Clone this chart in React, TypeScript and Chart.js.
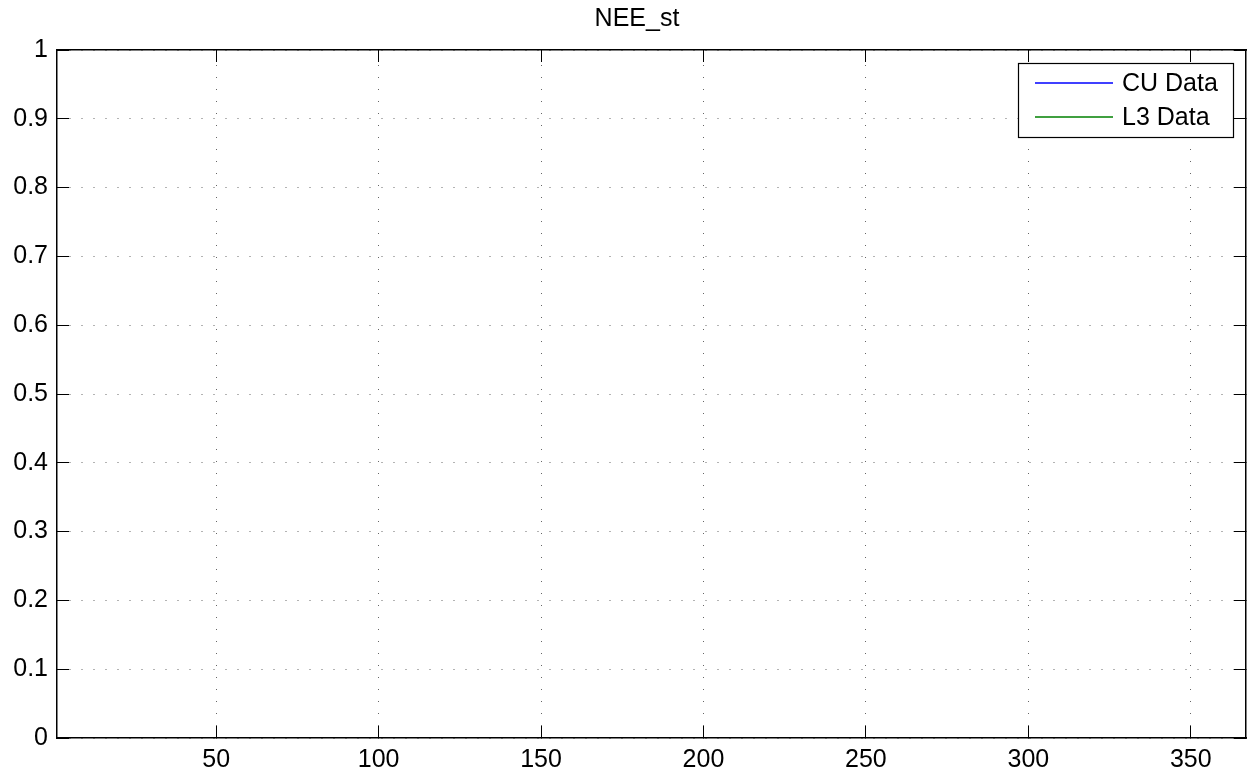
import React, { useEffect, useRef } from "react";
import { Chart, registerables } from "chart.js";

Chart.register(...registerables);

// ---- data ----
const titleText = "NEE_st";
const seriesNames = ["CU Data", "L3 Data"];
const seriesColors = ["#0000ff", "#008000"];
const cuData: { x: number; y: number }[] = [];
const l3Data: { x: number; y: number }[] = [];
const xRange = [1, 367];
const yRange = [0, 1];
const xTicks = [50, 100, 150, 200, 250, 300, 350];
const xTickLabels = ["50", "100", "150", "200", "250", "300", "350"];
const yTicks = [0, 0.1, 0.2, 0.3, 0.4, 0.5, 0.6, 0.7, 0.8, 0.9, 1];
const yTickLabels = ["0", "0.1", "0.2", "0.3", "0.4", "0.5", "0.6", "0.7", "0.8", "0.9", "1"];

const FONT = '"Liberation Sans", Arial, Helvetica, sans-serif';
const FONT_SIZE = 25;
const GRID_COLOR = "rgba(0,0,0,0.6)";

const matlabLegend = {
  id: "matlabLegend",
  afterLayout(chart: any) {
    // MATLAB places this title slightly left of the axes centre
    const tb = chart.titleBlock;
    if (tb) {
      tb.left = chart.chartArea.left - 29;
      tb.right = chart.chartArea.right;
      tb.width = tb.right - tb.left;
    }
  },
  afterDraw(chart: any) {
    const { ctx, chartArea } = chart;
    const boxW = 215;
    const boxH = 74;
    const inset = 13;
    const x0 = Math.round(chartArea.right - inset - boxW);
    const y0 = Math.round(chartArea.top + inset);
    ctx.save();
    ctx.globalAlpha = 1;
    ctx.globalCompositeOperation = "source-over";
    ctx.fillStyle = "#ffffff";
    ctx.fillRect(x0, y0, boxW, boxH);
    ctx.strokeStyle = "#000000";
    ctx.lineWidth = 1.2;
    ctx.strokeRect(x0 + 0.5, y0 + 0.5, boxW, boxH);
    chart.data.datasets.forEach((ds: any, i: number) => {
      const y = Math.round(y0 + 20 + i * 34);
      ctx.strokeStyle = seriesColors[i];
      ctx.lineWidth = 1.6;
      ctx.setLineDash([]);
      ctx.beginPath();
      ctx.moveTo(x0 + 17, y);
      ctx.lineTo(x0 + 95, y);
      ctx.stroke();
      ctx.fillStyle = "#000000";
      ctx.font = `${FONT_SIZE}px ${FONT}`;
      ctx.textAlign = "left";
      ctx.textBaseline = "middle";
      ctx.fillText(ds.label, x0 + 104, y + 1);
    });
    ctx.restore();
  },
};

function makeScaleTicks(values: number[]) {
  return (scale: any) => {
    scale.ticks = values.map((v) => ({ value: v }));
  };
}

export default function App() {
  const canvasRef = useRef<HTMLCanvasElement | null>(null);

  useEffect(() => {
    if (!canvasRef.current) return;
    Chart.defaults.font.family = FONT;
    Chart.defaults.color = "#000";

    const gridBase = {
      color: GRID_COLOR,
      lineWidth: 1,
      drawTicks: true,
      tickLength: -12,
      tickColor: "#000",
      tickWidth: 1,
      tickBorderDash: [],
    };

    const chart = new Chart(canvasRef.current, {
      type: "line",
      data: {
        datasets: [
          {
            label: seriesNames[0],
            data: cuData,
            borderColor: seriesColors[0],
            backgroundColor: seriesColors[0],
            borderWidth: 1,
            pointRadius: 0,
          },
          {
            label: seriesNames[1],
            data: l3Data,
            borderColor: seriesColors[1],
            backgroundColor: seriesColors[1],
            borderWidth: 1,
            pointRadius: 0,
          },
        ],
      },
      options: {
        responsive: false,
        animation: false,
        parsing: false,
        layout: { padding: { left: 0, right: 3, top: 0, bottom: 0 } },
        plugins: {
          legend: { display: false },
          tooltip: { enabled: false },
          title: {
            display: true,
            text: titleText,
            color: "#000",
            font: { size: FONT_SIZE, weight: "normal", family: FONT },
            padding: { top: 4, bottom: 16 },
          },
        },
        scales: {
          x: {
            type: "linear",
            position: "bottom",
            min: xRange[0],
            max: xRange[1],
            afterBuildTicks: makeScaleTicks(xTicks),
            afterFit: (s: any) => {
              s.height = 40;
            },
            ticks: {
              autoSkip: false,
              maxRotation: 0,
              padding: 19,
              color: "#000",
              font: { size: FONT_SIZE },
              callback: (v: any) => xTickLabels[xTicks.indexOf(Number(v))] ?? "",
            },
            grid: { ...gridBase, borderDash: [1, 11], borderDashOffset: 9 },
            border: { display: true, color: "#000", width: 1.5, dash: [1, 11], dashOffset: 9 },
          },
          x2: {
            type: "linear",
            position: "top",
            min: xRange[0],
            max: xRange[1],
            afterBuildTicks: makeScaleTicks(xTicks),
            afterFit: (s: any) => {
              s.height = 0;
            },
            ticks: { display: false },
            grid: { ...gridBase, drawOnChartArea: false },
            border: { display: true, color: "#000", width: 1.5 },
          },
          y: {
            type: "linear",
            position: "left",
            min: yRange[0],
            max: yRange[1],
            afterBuildTicks: makeScaleTicks(yTicks),
            afterFit: (s: any) => {
              s.width = 57;
            },
            ticks: {
              autoSkip: false,
              padding: 21,
              color: "#000",
              font: { size: FONT_SIZE },
              callback: (v: any) => {
                const idx = yTicks.findIndex((t) => Math.abs(t - Number(v)) < 1e-9);
                return idx >= 0 ? yTickLabels[idx] : "";
              },
            },
            grid: { ...gridBase, borderDash: [1, 11], borderDashOffset: 0 },
            border: { display: true, color: "#000", width: 1.5, dash: [1, 11], dashOffset: 0 },
          },
          y2: {
            type: "linear",
            position: "right",
            min: yRange[0],
            max: yRange[1],
            afterBuildTicks: makeScaleTicks(yTicks),
            afterFit: (s: any) => {
              s.width = 0;
            },
            ticks: { display: false },
            grid: { ...gridBase, drawOnChartArea: false },
            border: { display: true, color: "#000", width: 1.5 },
          },
        },
      } as any,
      plugins: [matlabLegend],
    });

    return () => chart.destroy();
  }, []);

  return (
    <div style={{ position: "absolute", left: 0, top: 0, width: 1249, height: 778, background: "#fff" }}>
      <canvas ref={canvasRef} width={1249} height={778} style={{ display: "block", width: 1249, height: 778 }} />
    </div>
  );
}
